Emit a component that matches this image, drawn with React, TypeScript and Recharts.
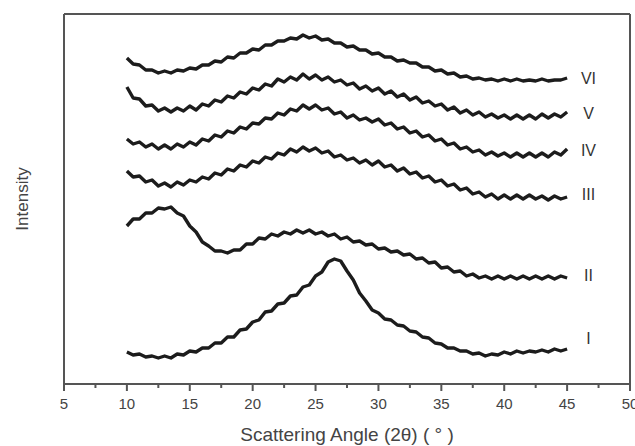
import React from 'react';
import { ComposedChart, Line, XAxis, YAxis, ReferenceDot, ReferenceLine } from 'recharts';

const angles = [
  10, 10.5, 11, 11.5, 12, 12.5, 13, 13.5, 14, 14.5, 15, 15.5, 16, 16.5, 17, 17.5, 18, 18.5, 19, 19.5,
  20, 20.5, 21, 21.5, 22, 22.5, 23, 23.5, 24, 24.5, 25, 25.5, 26, 26.5, 27, 27.5, 28, 28.5, 29, 29.5,
  30, 30.5, 31, 31.5, 32, 32.5, 33, 33.5, 34, 34.5, 35, 35.5, 36, 36.5, 37, 37.5, 38, 38.5, 39, 39.5,
  40, 40.5, 41, 41.5, 42, 42.5, 43, 43.5, 44, 44.5, 45,
];

const curveVI = [
  326, 320, 319, 314, 314, 311, 313, 311, 314, 313, 316, 315, 319, 319, 323, 322, 327, 326, 331, 331,
  335, 334, 339, 339, 343, 343, 346, 345, 349, 346, 348, 344, 345, 341, 341, 337, 338, 334, 334, 330,
  331, 327, 327, 323, 324, 321, 321, 317, 317, 313, 314, 310, 311, 307, 308, 305, 306, 304, 305, 303,
  305, 303, 305, 303, 304, 303, 305, 303, 304, 304, 306,
];
const curveV = [
  297, 286, 285, 278, 279, 273, 276, 272, 276, 273, 278, 274, 280, 278, 284, 282, 288, 286, 292, 290,
  296, 294, 300, 298, 305, 302, 307, 304, 310, 305, 309, 304, 307, 302, 304, 299, 301, 295, 298, 293,
  296, 290, 293, 287, 290, 284, 287, 281, 283, 278, 280, 274, 277, 271, 274, 269, 272, 267, 270, 266,
  269, 265, 269, 265, 269, 265, 270, 266, 270, 267, 272,
];
const curveIV = [
  245, 240, 242, 237, 240, 235, 239, 235, 240, 237, 242, 239, 245, 243, 249, 247, 253, 251, 257, 255,
  261, 260, 266, 265, 271, 269, 275, 273, 279, 275, 279, 274, 276, 270, 272, 266, 269, 264, 266, 262,
  265, 259, 261, 255, 257, 251, 253, 247, 249, 243, 245, 239, 241, 235, 237, 232, 234, 229, 232, 228,
  231, 227, 231, 227, 231, 227, 231, 227, 232, 229, 235,
];
const curveIII = [
  213, 207, 208, 202, 204, 198, 201, 197, 202, 199, 204, 202, 207, 205, 211, 209, 215, 213, 219, 217,
  223, 221, 227, 225, 231, 229, 235, 232, 237, 233, 236, 231, 233, 227, 229, 224, 226, 221, 224, 219,
  223, 217, 219, 213, 216, 210, 212, 206, 208, 202, 204, 198, 200, 194, 196, 190, 192, 187, 190, 185,
  189, 185, 189, 185, 189, 185, 188, 184, 188, 185, 187,
];
const curveII = [
  158, 165, 165, 171, 171, 176, 175, 177, 171, 168, 158, 152, 142, 138, 133, 133, 131, 134, 134, 140,
  140, 146, 145, 150, 148, 152, 150, 154, 151, 154, 150, 152, 148, 150, 145, 147, 142, 143, 139, 140,
  135, 136, 132, 133, 129, 130, 125, 126, 121, 122, 116, 117, 112, 113, 108, 110, 106, 108, 105, 108,
  105, 108, 105, 108, 105, 108, 105, 108, 105, 108, 106,
];
const curveI = [
  32, 29, 30, 27, 28, 26, 28, 26, 30, 29, 33, 32, 36, 36, 41, 41, 47, 47, 54, 55,
  62, 64, 72, 73, 80, 81, 88, 89, 97, 99, 108, 112, 122, 125, 123, 113, 104, 91, 83, 74,
  71, 65, 64, 59, 58, 53, 52, 47, 46, 41, 40, 36, 36, 33, 33, 30, 31, 28, 30, 29,
  32, 30, 33, 31, 33, 32, 34, 32, 35, 33, 35,
];

const xTicks = [5, 7.5, 10, 12.5, 15, 17.5, 20, 22.5, 25, 27.5, 30, 32.5, 35, 37.5, 40, 42.5, 45, 47.5, 50];

const seriesNames = ['I', 'II', 'III', 'IV', 'V', 'VI'];
const seriesValues = [curveI, curveII, curveIII, curveIV, curveV, curveVI];
const labelAngle = 46.7;
const labelLevels = [46, 109, 190, 234, 271, 306];
const yMin = 0;
const yMax = 370;
const xMin = 5;
const xMax = 50;

const data = angles.map((a, i) => {
  const row: Record<string, number> = { angle: a };
  seriesNames.forEach((n, k) => {
    row[n] = seriesValues[k][i];
  });
  return row;
});

const FONT = '"Liberation Sans", Arial, Helvetica, sans-serif';
const AXIS = '#555';

const XTick = (props: any) => {
  const { x, y, payload } = props;
  const v = payload.value as number;
  const major = v % 5 === 0;
  return (
    <g>
      <line x1={x} x2={x} y1={y} y2={y + (major ? 7 : 4)} stroke={AXIS} strokeWidth={2} />
      {major && (
        <text x={x} y={y + 25} textAnchor="middle" fontSize={15} fill="#444" fontFamily={FONT}>
          {v}
        </text>
      )}
    </g>
  );
};

const YLabel = (props: any) => {
  const vb = props.viewBox || {};
  const cx = (vb.x || 0) + 22;
  const cy = (vb.y || 0) + (vb.height || 0) / 2;
  return (
    <text
      x={cx}
      y={cy}
      transform={`rotate(-90, ${cx}, ${cy})`}
      textAnchor="middle"
      dominantBaseline="central"
      fontSize={17}
      fill="#444"
      fontFamily={FONT}
    >
      Intensity
    </text>
  );
};

export default function App() {
  return (
    <div style={{ width: 635, height: 446 }}>
      <style>{'body{margin:0;background:#fff}'}</style>
      <ComposedChart
        width={635}
        height={446}
        data={data}
        margin={{ top: 14, right: 5, left: 0, bottom: 0 }}
      >
        <XAxis
          dataKey="angle"
          type="number"
          domain={[xMin, xMax]}
          ticks={xTicks}
          interval={0}
          tickSize={0}
          tickMargin={0}
          tickLine={false}
          tick={<XTick />}
          height={62}
          axisLine={{ stroke: AXIS, strokeWidth: 2 }}
          label={{
            value: 'Scattering Angle (2θ) ( ° )',
            position: 'insideBottom',
            offset: 5,
            fontSize: 19,
            fill: '#444',
            fontFamily: FONT,
          }}
        />
        <YAxis
          type="number"
          domain={[yMin, yMax]}
          width={64}
          tick={false}
          tickLine={false}
          axisLine={{ stroke: AXIS, strokeWidth: 2 }}
          label={<YLabel />}
        />
        <ReferenceLine y={yMax} stroke={AXIS} strokeWidth={2} />
        <ReferenceLine x={xMax} stroke={AXIS} strokeWidth={2} />
        {seriesNames.map((n) => (
          <Line
            key={n}
            dataKey={n}
            type="linear"
            stroke="#1c1c1c"
            strokeWidth={3.4}
            strokeLinejoin="round"
            dot={false}
            activeDot={false}
            isAnimationActive={false}
          />
        ))}
        {seriesNames.map((n, k) => (
          <ReferenceDot
            key={'lbl' + n}
            x={labelAngle}
            y={labelLevels[k]}
            r={0}
            stroke="none"
            fill="none"
            label={{ value: n, position: 'center', fontSize: 16, fill: '#333', fontFamily: FONT }}
          />
        ))}
      </ComposedChart>
    </div>
  );
}
